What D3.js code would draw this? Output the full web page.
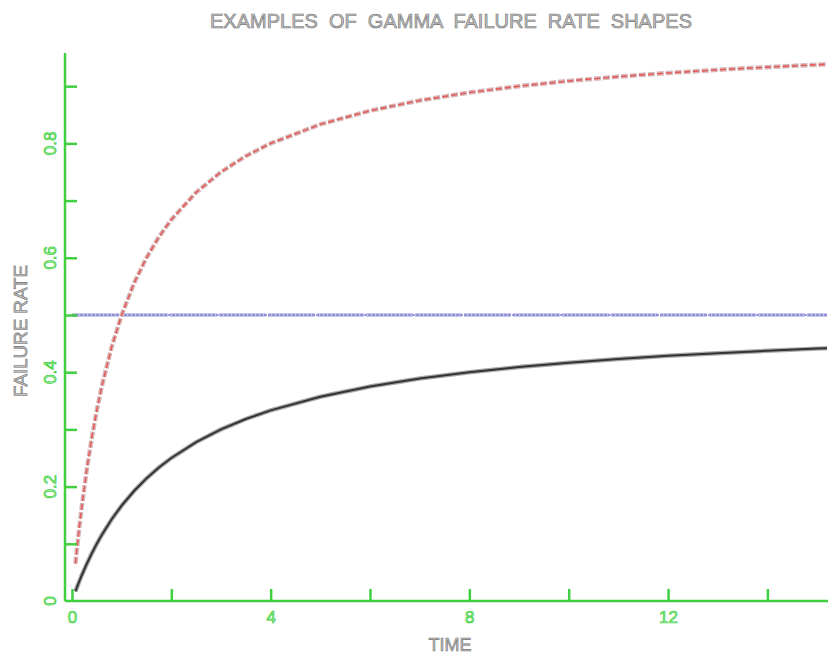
<!DOCTYPE html>
<html>
<head>
<meta charset="utf-8">
<script src="https://cdn.jsdelivr.net/npm/d3@7"></script>
<style>
  html, body { margin: 0; padding: 0; background: #fff; }
  svg { display: block; }
  .lbl { font-family: "Liberation Sans", "DejaVu Sans", sans-serif; white-space: pre; }
</style>
</head>
<body>
<svg id="chart" width="828" height="656"></svg>
<script>
// Failure rate h(t) of three gamma distributions, sampled over time
const times = [0.07, 0.1, 0.15, 0.2, 0.3, 0.4, 0.5, 0.6, 0.8, 1.0, 1.25, 1.5, 1.75, 2, 2.5, 3, 3.5, 4, 5, 6, 7, 8, 9, 10, 11, 12, 13, 14, 15, 15.2];
const rateRed = [0.0654, 0.0909, 0.1304, 0.1667, 0.2308, 0.2857, 0.3333, 0.375, 0.4444, 0.5, 0.5556, 0.6, 0.6364, 0.6667, 0.7143, 0.75, 0.7778, 0.8, 0.8333, 0.8571, 0.875, 0.8889, 0.9, 0.9091, 0.9167, 0.9231, 0.9286, 0.9333, 0.9375, 0.9383];
const rateBlack = [0.0169, 0.0238, 0.0349, 0.0455, 0.0652, 0.0833, 0.1, 0.1154, 0.1429, 0.1667, 0.1923, 0.2143, 0.2333, 0.25, 0.2778, 0.3, 0.3182, 0.3333, 0.3571, 0.375, 0.3889, 0.4, 0.4091, 0.4167, 0.4231, 0.4286, 0.4333, 0.4375, 0.4412, 0.4419];
const flatTimes = [0, 15.2];
const rateBlue = [0.5, 0.5];

const xTicks = [0, 2, 4, 6, 8, 10, 12, 14];
const xTickLabels = ["0", "", "4", "", "8", "", "12", ""];
const yTicks = [0.1, 0.2, 0.3, 0.4, 0.5, 0.6, 0.7, 0.8, 0.9];
const yLabelTicks = [0, 0.2, 0.4, 0.6, 0.8];
const yLabelText = ["0", "0.2", "0.4", "0.6", "0.8"];

const xDomain = [-0.14, 15.22];
const yDomain = [0, 0.958];

const svg = d3.select("#chart");
const x = d3.scaleLinear().domain(xDomain).range([65, 828]);
const y = d3.scaleLinear().domain(yDomain).range([601, 53]);

const green = "#3fcf3f";
const greenFill = "#9ef09e";

function greyText(sel) {
  return sel.attr("class", "lbl")
    .attr("fill", "#c4c4c4").attr("stroke", "#707070").attr("stroke-width", 0.6);
}

// Title and axis titles
greyText(svg.append("text"))
  .attr("x", 451).attr("y", 28)
  .attr("text-anchor", "middle")
  .attr("font-size", 19.5)
  .attr("textLength", 482).attr("lengthAdjust", "spacingAndGlyphs")
  .text("EXAMPLES  OF  GAMMA  FAILURE  RATE  SHAPES");

greyText(svg.append("text"))
  .attr("transform", "translate(27,331) rotate(-90)")
  .attr("text-anchor", "middle")
  .attr("font-size", 18)
  .attr("textLength", 132).attr("lengthAdjust", "spacingAndGlyphs")
  .text("FAILURE RATE");

greyText(svg.append("text"))
  .attr("x", 450).attr("y", 651)
  .attr("text-anchor", "middle")
  .attr("font-size", 18)
  .attr("textLength", 43).attr("lengthAdjust", "spacingAndGlyphs")
  .text("TIME");

// Curves
const line = d3.line().x(d => x(d[0])).y(d => y(d[1]));
const redPts = times.map((t, i) => [t, rateRed[i]]);
const blackPts = times.map((t, i) => [t, rateBlack[i]]);
const bluePts = flatTimes.map((t, i) => [t, rateBlue[i]]);

svg.append("path").attr("d", line(bluePts))
  .attr("fill", "none").attr("stroke", "#c8c8e8").attr("stroke-width", 4)
  .attr("stroke-dasharray", "47,2");
svg.append("path").attr("d", line(bluePts))
  .attr("fill", "none").attr("stroke", "#7f7fd6").attr("stroke-width", 1.6)
  .attr("stroke-dasharray", "3,1");

svg.append("path").attr("d", line(blackPts))
  .attr("fill", "none").attr("stroke", "#aaa").attr("stroke-width", 4.5);
svg.append("path").attr("d", line(blackPts))
  .attr("fill", "none").attr("stroke", "#333").attr("stroke-width", 2);

svg.append("path").attr("d", line(redPts))
  .attr("fill", "none").attr("stroke", "#d6b8b8").attr("stroke-width", 4.5)
  .attr("stroke-dasharray", "7,2");
svg.append("path").attr("d", line(redPts))
  .attr("fill", "none").attr("stroke", "#e45a5a").attr("stroke-width", 1.6)
  .attr("stroke-dasharray", "6,3");

// Axes
const xAxis = d3.axisBottom(x).tickValues(xTicks).tickSize(-12).tickPadding(8)
  .tickFormat((d, i) => xTickLabels[i]);
const gx = svg.append("g").attr("transform", `translate(0,${y(0)})`).call(xAxis);
gx.select(".domain").attr("stroke", green).attr("stroke-width", 2.5)
  .attr("d", `M${x(xDomain[0])},0H${x(xDomain[1])}`);
gx.selectAll(".tick line").attr("stroke", green).attr("stroke-width", 2.5);
gx.selectAll(".tick text").attr("class", "lbl")
  .attr("font-size", 17).attr("fill", greenFill).attr("stroke", green).attr("stroke-width", 0.7)
  .attr("dy", "0.71em").attr("y", 10);

const yAxis = d3.axisLeft(y).tickValues(yTicks).tickSize(-12).tickFormat("");
const gy = svg.append("g").attr("transform", `translate(${x(xDomain[0])},0)`).call(yAxis);
gy.select(".domain").attr("stroke", green).attr("stroke-width", 2.5)
  .attr("d", `M0,${y(0)}V${y(yDomain[1])}`);
gy.selectAll(".tick line").attr("stroke", green).attr("stroke-width", 2.5);

// Rotated value labels on the rate axis
svg.append("g").selectAll("text").data(yLabelTicks).join("text")
  .attr("class", "lbl")
  .attr("transform", d => `translate(56,${y(d)}) rotate(-90)`)
  .attr("text-anchor", "middle")
  .attr("font-size", 17)
  .attr("fill", greenFill).attr("stroke", green).attr("stroke-width", 0.7)
  .text((d, i) => yLabelText[i]);
</script>
</body>
</html>
